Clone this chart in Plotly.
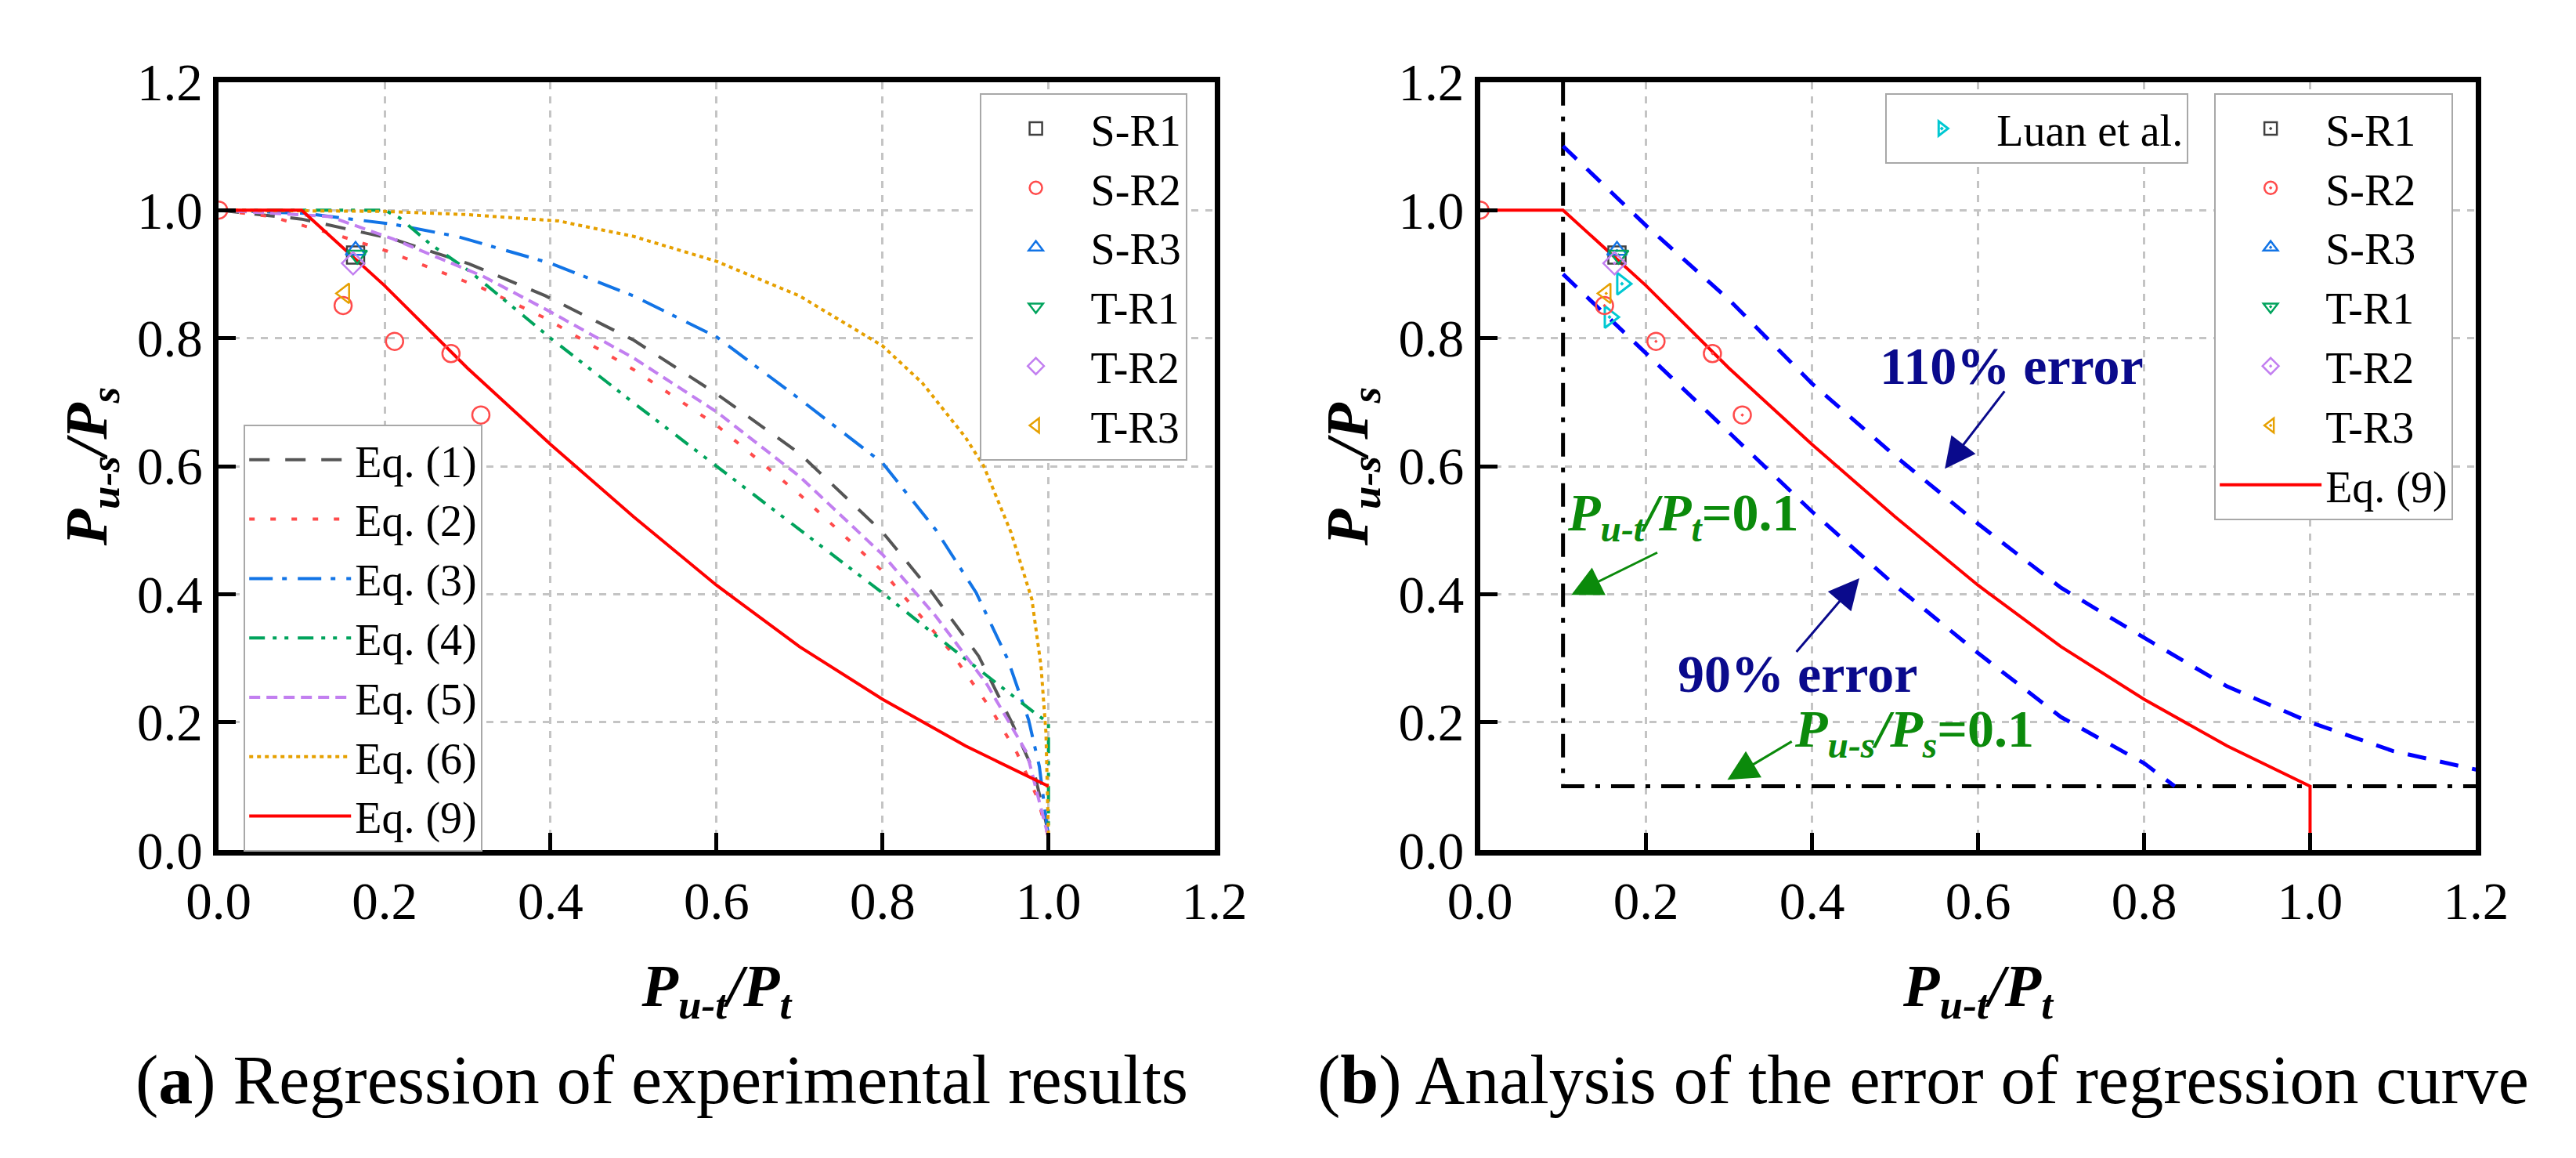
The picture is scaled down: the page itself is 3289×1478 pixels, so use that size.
import plotly.graph_objects as go

# ---- regression curves, left panel (a) ----
eq1_x = [0, 0.1, 0.21, 0.302, 0.394, 0.5, 0.6, 0.7, 0.8, 0.86, 0.916, 0.956, 0.983, 0.998, 1.0]
eq1_y = [1.0, 0.986, 0.955, 0.916, 0.866, 0.797, 0.713, 0.62, 0.497, 0.402, 0.303, 0.199, 0.121, 0.038, 0.02]

eq2_x = [0, 0.063, 0.148, 0.203, 0.318, 0.394, 0.5, 0.6, 0.7, 0.8, 0.88, 0.931, 0.962, 0.986, 1.0]
eq2_y = [1.0, 0.99, 0.959, 0.936, 0.878, 0.831, 0.751, 0.664, 0.556, 0.436, 0.314, 0.22, 0.152, 0.084, 0.02]

eq3_x = [0, 0.103, 0.21, 0.287, 0.4, 0.5, 0.6, 0.7, 0.8, 0.864, 0.913, 0.951, 0.976, 0.989, 1.0]
eq3_y = [1.0, 0.995, 0.978, 0.959, 0.917, 0.866, 0.802, 0.705, 0.605, 0.501, 0.402, 0.298, 0.204, 0.131, 0.02]

eq4_x = [0, 0.2, 0.218, 0.255, 0.302, 0.4, 0.5, 0.6, 0.7, 0.8, 0.883, 0.931, 0.983, 1.0, 1.0]
eq4_y = [1.0, 1.0, 0.988, 0.947, 0.905, 0.8, 0.699, 0.6, 0.5, 0.402, 0.316, 0.267, 0.215, 0.199, 0.02]

eq5_x = [0, 0.134, 0.21, 0.318, 0.4, 0.5, 0.6, 0.7, 0.8, 0.864, 0.925, 0.974, 1.0]
eq5_y = [1.0, 0.99, 0.955, 0.897, 0.841, 0.769, 0.685, 0.584, 0.462, 0.366, 0.261, 0.152, 0.02]

eq6_x = [0, 0.2, 0.3, 0.41, 0.5, 0.6, 0.7, 0.8, 0.848, 0.9, 0.922, 0.955, 0.98, 0.991, 0.997, 1.0]
eq6_y = [1.0, 0.998, 0.993, 0.983, 0.959, 0.92, 0.866, 0.788, 0.73, 0.645, 0.6, 0.496, 0.392, 0.288, 0.183, 0.02]

eq9_x = [0, 0.1, 0.2, 0.3, 0.4, 0.5, 0.6, 0.7, 0.8, 0.9, 1.0]
eq9_y = [1.0, 1.0, 0.882, 0.753, 0.634, 0.521, 0.414, 0.318, 0.236, 0.163, 0.1]
# vertical drop of Eq. (9) shown in panel (b)
eq9_tail_x = [1.0]
eq9_tail_y = [0.0]

# ---- error bands and limits, right panel (b) ----
upper_x = [0.1, 0.2, 0.3, 0.4, 0.5, 0.6, 0.7, 0.8, 0.9, 1.0, 1.1, 1.2]
upper_y = [1.1, 0.976, 0.86, 0.729, 0.616, 0.51, 0.41, 0.332, 0.256, 0.2, 0.155, 0.126]

lower_x = [0.1, 0.2, 0.3, 0.4, 0.5, 0.6, 0.7, 0.8, 0.837]
lower_y = [0.9, 0.777, 0.654, 0.529, 0.414, 0.308, 0.208, 0.136, 0.1]

limit_x = [0.1, 0.1, 1.2]
limit_y = [1.2, 0.1, 0.1]

# ---- test points ----
sr1_x, sr1_y = [0.165], [0.93]
sr2_x, sr2_y = [0, 0.15, 0.212, 0.28, 0.316], [1.0, 0.851, 0.795, 0.776, 0.68]
sr3_x, sr3_y = [0.165], [0.937]
tr1_x, tr1_y = [0.167], [0.93]
tr2_x, tr2_y = [0.162], [0.917]
tr3_x, tr3_y = [0.152], [0.87]
luan_x, luan_y = [0.171, 0.156], [0.885, 0.833]

FONT = "Liberation Serif"

fig = go.Figure()

curves = [
    ("Eq. (1)", eq1_x, eq1_y, "#555555", "26px,20px"),
    ("Eq. (2)", eq2_x, eq2_y, "#ff4b4b", "7px,20px"),
    ("Eq. (3)", eq3_x, eq3_y, "#1274e6", "30px,12px,6px,14px"),
    ("Eq. (4)", eq4_x, eq4_y, "#00a35c", "20px,10px,5px,10px,5px,12px"),
    ("Eq. (5)", eq5_x, eq5_y, "#c27ff0", "14px,8px"),
    ("Eq. (6)", eq6_x, eq6_y, "#e6a000", "5px,5px"),
    ("Eq. (9)", eq9_x, eq9_y, "#ff0000", "solid"),
]
for name, xs, ys, col, dash in curves:
    fig.add_trace(go.Scatter(x=xs, y=ys, mode="lines", name=name, legend="legend2",
                             line=dict(color=col, width=4, dash=dash), xaxis="x", yaxis="y"))

points = [
    ("S-R1", sr1_x, sr1_y, "#404040", "square"),
    ("S-R2", sr2_x, sr2_y, "#ff4b4b", "circle"),
    ("S-R3", sr3_x, sr3_y, "#1274e6", "triangle-up"),
    ("T-R1", tr1_x, tr1_y, "#00a35c", "triangle-down"),
    ("T-R2", tr2_x, tr2_y, "#c27ff0", "diamond"),
    ("T-R3", tr3_x, tr3_y, "#e6a000", "triangle-left"),
]
for name, xs, ys, col, sym in points:
    fig.add_trace(go.Scatter(x=xs, y=ys, mode="markers", name=name, legend="legend",
                             marker=dict(symbol=sym + "-open", size=22, color=col, line=dict(width=2.5, color=col)),
                             xaxis="x", yaxis="y"))

# right panel
fig.add_trace(go.Scatter(x=limit_x, y=limit_y, mode="lines", showlegend=False,
                         line=dict(color="black", width=5, dash="30px,14px,6px,14px"), xaxis="x2", yaxis="y2"))
fig.add_trace(go.Scatter(x=upper_x, y=upper_y, mode="lines", showlegend=False,
                         line=dict(color="#0000ff", width=5, dash="24px,18px"), xaxis="x2", yaxis="y2"))
fig.add_trace(go.Scatter(x=lower_x, y=lower_y, mode="lines", showlegend=False,
                         line=dict(color="#0000ff", width=5, dash="24px,18px"), xaxis="x2", yaxis="y2"))
fig.add_trace(go.Scatter(x=eq9_x + eq9_tail_x, y=eq9_y + eq9_tail_y, mode="lines", name="Eq. (9)",
                         legend="legend4", legendrank=2000,
                         line=dict(color="#ff0000", width=4), xaxis="x2", yaxis="y2"))
fig.add_trace(go.Scatter(x=luan_x, y=luan_y, mode="markers", name="Luan et al.", legend="legend3",
                         marker=dict(symbol="triangle-right-open-dot", size=24, color="#00c8d2",
                                     line=dict(width=3, color="#00c8d2")),
                         xaxis="x2", yaxis="y2"))
for name, xs, ys, col, sym in points:
    fig.add_trace(go.Scatter(x=xs, y=ys, mode="markers", name=name, legend="legend4",
                             marker=dict(symbol=sym + "-open-dot", size=22, color=col, line=dict(width=2.5, color=col)),
                             xaxis="x2", yaxis="y2"))

axis_style = dict(range=[0, 1.2], dtick=0.2, tick0=0, tickformat=".1f",
                  showline=True, linewidth=7, linecolor="black", mirror=True,
                  ticks="inside", ticklen=22, tickwidth=5, tickcolor="black",
                  showgrid=True, gridcolor="#c4c4c4", gridwidth=2.5, griddash="dash",
                  zeroline=False, tickfont=dict(family=FONT, size=67, color="black"))

x_title = "<b><i>P<sub>u-t</sub>/P<sub>t</sub></i></b>"
y_title = "<b><i>P<sub>u-s</sub>/P<sub>s</sub></i></b>"
title_font = dict(family=FONT, size=76, color="black")

fig.update_layout(
    xaxis=dict(domain=[0.0715, 0.4682], anchor="y", title=dict(text=x_title, font=title_font, standoff=48), **axis_style),
    yaxis=dict(domain=[0.2591, 0.9574], anchor="x", title=dict(text=y_title, font=title_font, standoff=16), **axis_style),
    xaxis2=dict(domain=[0.574, 0.9708], anchor="y2", title=dict(text=x_title, font=title_font, standoff=48), **axis_style),
    yaxis2=dict(domain=[0.2591, 0.9574], anchor="x2", title=dict(text=y_title, font=title_font, standoff=16), **axis_style),
)

legend_style = dict(bgcolor="white", bordercolor="#a8a8a8", borderwidth=2, itemwidth=130,
                    font=dict(family=FONT, size=56, color="black"), xanchor="left", yanchor="top",
                    tracegroupgap=0, itemclick=False)

fig.update_layout(
    width=3289, height=1478,
    margin=dict(l=0, r=0, t=0, b=0),
    paper_bgcolor="white", plot_bgcolor="white",
    font=dict(family=FONT, color="black"),
    legend=dict(x=0.3746, y=0.9472, **legend_style),
    legend2=dict(x=0.0815, y=0.6461, **legend_style),
    legend3=dict(x=0.7355, y=0.9472, **legend_style),
    legend4=dict(x=0.8665, y=0.9472, **legend_style),
)

navy = "#0a0a8c"
green = "#0b8a0b"
ann_font = dict(family=FONT, size=68)

# text labels
labels = [
    ("<b>110% error</b>", 0.641, 0.757, navy),
    ("<b>90% error</b>", 0.383, 0.276, navy),
    ("<b><i>P<sub>u-t</sub>/P<sub>t</sub></i>=0.1</b>", 0.245, 0.522, green),
    ("<b><i>P<sub>u-s</sub>/P<sub>s</sub></i>=0.1</b>", 0.523, 0.185, green),
]
for text, x, y, col in labels:
    fig.add_annotation(x=x, y=y, xref="x2", yref="y2", text=text, showarrow=False,
                       xanchor="center", yanchor="middle", font=dict(color=col, **ann_font))

# arrows (head x,y ; tail ax,ay)
arrows = [
    (0.560, 0.596, 0.633, 0.719, navy),
    (0.457, 0.425, 0.380, 0.308, navy),
    (0.110, 0.399, 0.215, 0.466, green),
    (0.298, 0.110, 0.377, 0.171, green),
]
for x, y, ax, ay, col in arrows:
    fig.add_annotation(x=x, y=y, ax=ax, ay=ay, xref="x2", yref="y2", axref="x2", ayref="y2",
                       text="", showarrow=True, arrowhead=2, arrowsize=2.6, arrowwidth=3, arrowcolor=col)

# captions
fig.add_annotation(x=0.248, y=0.05, xref="paper", yref="paper", showarrow=False,
                   xanchor="center", yanchor="middle",
                   text="(<b>a</b>) Regression of experimental results",
                   font=dict(family=FONT, size=88, color="black"))
fig.add_annotation(x=0.7504, y=0.05, xref="paper", yref="paper", showarrow=False,
                   xanchor="center", yanchor="middle",
                   text="(<b>b</b>) Analysis of the error of regression curve",
                   font=dict(family=FONT, size=88, color="black"))

fig.write_html("out.html")
